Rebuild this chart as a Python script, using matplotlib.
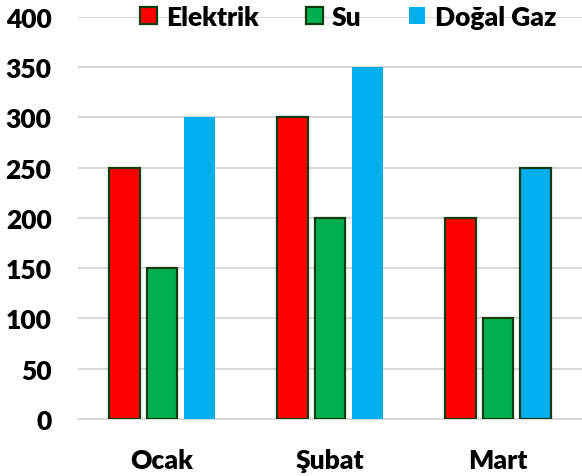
import numpy as np
import matplotlib
matplotlib.use("Agg")
import matplotlib.pyplot as plt
from matplotlib.patches import Patch

months = ["Ocak", "Şubat", "Mart"]
series_names = ["Elektrik", "Su", "Doğal Gaz"]
elektrik = [250, 300, 200]
su = [150, 200, 100]
dogal_gaz = [300, 350, 250]
y_ticks = [0, 50, 100, 150, 200, 250, 300, 350, 400]

plt.rcParams['font.family'] = ['Lato', 'DejaVu Sans']
plt.rcParams['font.weight'] = 'heavy'

fig = plt.figure(figsize=(5.82, 4.77), dpi=100)
ax = fig.add_axes([0.134, 0.1195, 0.866, 0.8428])

edge = "#103c10"
x = np.arange(len(months))
w = 0.184
step = 0.222
ax.bar(x - step, elektrik, w, color="#ff0000", edgecolor=edge, linewidth=1.6, zorder=3)
ax.bar(x, su, w, color="#00b050", edgecolor=edge, linewidth=1.6, zorder=3)
gaz_edges = ["none", "none", edge]
for i, v in enumerate(dogal_gaz):
    ax.bar(x[i] + step, v, w, color="#00b0f0", edgecolor=gaz_edges[i], linewidth=1.6, zorder=3)

ax.set_xlim(-0.5, 2.5)
ax.set_ylim(0, 400)
ax.set_yticks(y_ticks)
ax.set_xticks(x)
ax.set_xticklabels(months)
ax.grid(axis='y', color="#d9d9d9", linewidth=1.5, zorder=0)
for s in ["top", "right", "left"]:
    ax.spines[s].set_visible(False)
ax.spines["bottom"].set_color("#d9d9d9")
ax.spines["bottom"].set_linewidth(1.5)
ax.tick_params(axis='both', length=0, labelsize=19)
ax.tick_params(axis='y', pad=19)
ax.tick_params(axis='x', pad=21)

handles = [Patch(facecolor="#ff0000", edgecolor=edge, linewidth=1.6),
           Patch(facecolor="#00b050", edgecolor=edge, linewidth=1.6),
           Patch(facecolor="#00b0f0", edgecolor="none")]
ax.legend(handles, series_names, loc="center", bbox_to_anchor=(0.536, 1.0), ncol=3,
          frameon=False, fontsize=19, handlelength=0.62, handleheight=0.62,
          handletextpad=0.35, columnspacing=1.8, borderaxespad=0)

fig.savefig("out.png", dpi=100)
